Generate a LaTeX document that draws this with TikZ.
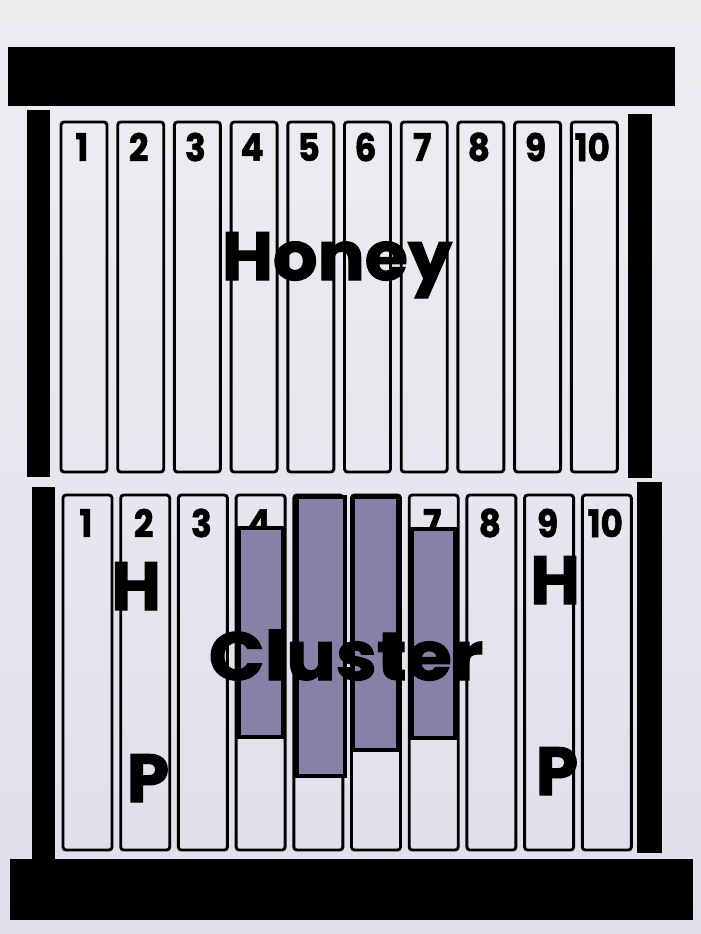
\documentclass[tikz,border=0pt]{standalone}
\usepackage{fontspec}
\setmainfont{Poppins}
\newfontfamily\heavyfont{Poppins}[BoldFeatures={FakeBold=1.6}]
\usetikzlibrary{positioning}
\definecolor{paper}{RGB}{238,238,241}
\definecolor{paperlow}{RGB}{225,222,235}
\definecolor{brood}{RGB}{136,128,166}

\tikzset{
  framebox/.style={draw=black, line width=1.45pt, rounded corners=1.5pt},
  broodbox/.style={draw=black, line width=1.6pt, fill=brood},
  numtext/.style={font=\heavyfont\bfseries\fontsize{19}{19}\selectfont, inner sep=0pt, xscale=0.9},
  bigtext/.style={font=\heavyfont\bfseries\fontsize{34}{34}\selectfont, inner sep=0pt, anchor=base},
}

\begin{document}
\begin{tikzpicture}[x=0.5pt, y=-0.5pt]
  % slide background
  \shade[top color=paper, bottom color=paperlow] (0,0) rectangle (701,934);
  % black bars of the hive body
  \fill (8,47) rectangle (675,106);
  \fill (10,859) rectangle (693,920);
  \fill (27,110) rectangle (50,477);
  \fill (32,487) rectangle (55,860);
  \fill (628,114) rectangle (652,478);
  \fill (637,482) rectangle (662,853);
  % upper box: ten frames
  \foreach \i in {1,...,10}{
    \pgfmathsetmacro\xl{61+56.7*(\i-1)}
    \draw[framebox] (\xl,122) rectangle ++(46,350);
    \node[numtext] (up\i) at (\xl+21,147) {\i};
  }
  % lower box: ten frames
  \foreach \i in {1,...,10}{
    \pgfmathsetmacro\xl{63+57.7*(\i-1)}
    \draw[framebox] (\xl,495) rectangle ++(49,355);
  }
  \foreach \i in {1,2,3,4,7,8,9,10}{
    \pgfmathsetmacro\xl{63+57.7*(\i-1)}
    \node[numtext] (lo\i) at (\xl+23,523) {\i};
  }
  % brood area
  \draw[broodbox] (239,528) rectangle (283,737);
  \draw[broodbox] (297,497) rectangle (345,776);
  \draw[broodbox] (353,497) rectangle (398,750);
  \draw[broodbox] (412,529) rectangle (455,738);
  % labels
  \node[bigtext, xscale=1.03] (honey) at (337,280) {Honey};
  \node[bigtext, xscale=1.08] (cluster) at (346,680) {Cluster};
  \node[bigtext] (hl) at (136,610) {H};
  \node[bigtext] (pl) at (148,802) {P};
  \node[bigtext] (hr) at (555,604) {H};
  \node[bigtext] (pr) at (557,795) {P};
\end{tikzpicture}
\end{document}
